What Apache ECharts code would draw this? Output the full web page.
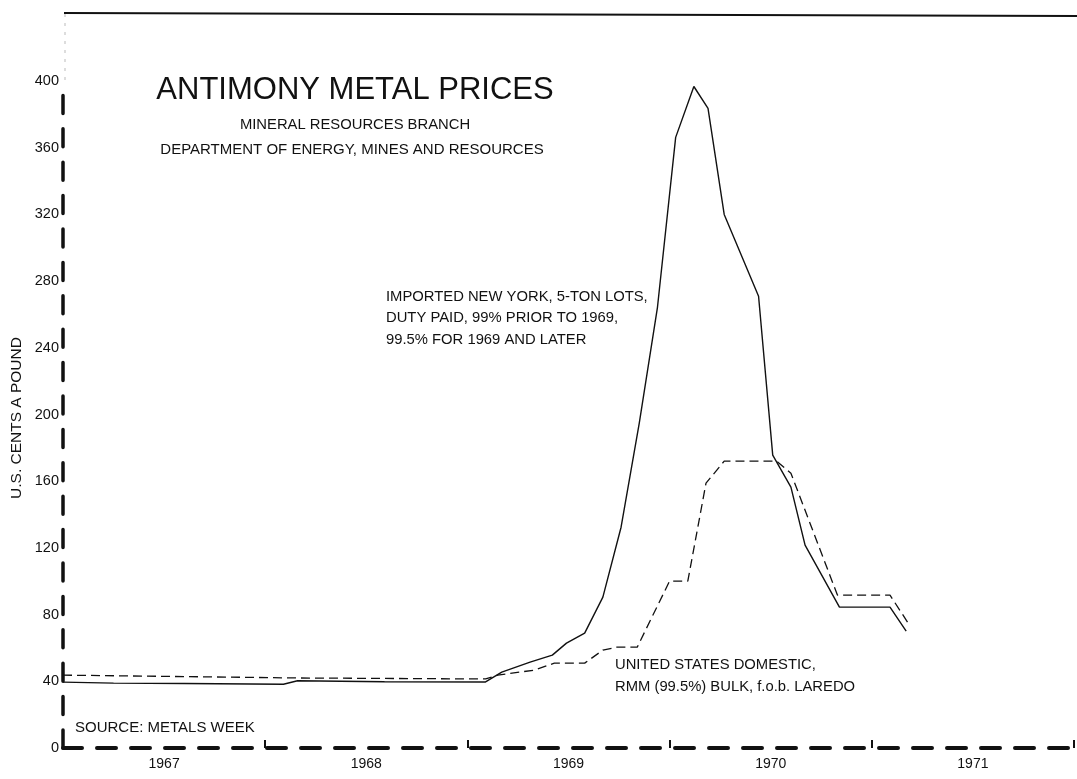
<!DOCTYPE html>
<html>
<head>
<meta charset="utf-8">
<title>Antimony metal prices</title>
<script src="https://cdn.jsdelivr.net/npm/echarts@6.0.0/dist/echarts.min.js"></script>
<style>
  html, body { margin: 0; padding: 0; background: #fff; }
  #myChart { width: 1077px; height: 779px; }
</style>
</head>
<body>
<div id="myChart"></div>
<script>
// imported New York, 5-ton lots (solid line)
const nyYears = [1967.00, 1967.25, 1967.60, 1968.09, 1968.16, 1968.59, 1969.09, 1969.17, 1969.31, 1969.42,
  1969.49, 1969.58, 1969.67, 1969.76, 1969.85, 1969.94, 1970.03, 1970.12, 1970.19, 1970.27,
  1970.44, 1970.51, 1970.60, 1970.67, 1970.84, 1971.09, 1971.17];
const nyPrices = [39.5, 38.9, 38.7, 38.2, 40.3, 39.7, 39.6, 45.5, 51.5, 55.7,
  62.9, 68.9, 90.5, 132.4, 194.8, 264.3, 366.2, 396.7, 383.6, 320.0,
  270.9, 175.6, 156.4, 121.7, 84.5, 84.5, 70.1];

// United States domestic, f.o.b. Laredo (dashed line)
const domYears = [1967.00, 1968.16, 1969.09, 1969.15, 1969.33, 1969.43, 1969.58, 1969.67, 1969.74, 1969.84,
  1970.00, 1970.09, 1970.18, 1970.27, 1970.53, 1970.60, 1970.83, 1971.09, 1971.18];
const domPrices = [43.7, 42.0, 41.4, 43.7, 46.7, 50.9, 50.9, 58.7, 60.5, 60.5,
  100.1, 100.1, 158.8, 172.0, 172.0, 164.8, 91.7, 91.7, 74.9];

// axis labels
const yearLabels = ['1967', '1968', '1969', '1970', '1971'];
const firstYear = 1967;
const lastYear = 1972;

const ink = '#111';
const font = '"Liberation Sans", Arial, sans-serif';

function pairs(xs, ys) {
  return xs.map(function (x, i) { return [x, ys[i]]; });
}

let myChart = echarts.init(document.getElementById('myChart'));

myChart.setOption({
  backgroundColor: '#fff',
  animation: false,
  grid: { left: 63, right: 0, top: 81, bottom: 31 },
  xAxis: [
    {
      // year labels sit in the middle of each year
      type: 'value',
      min: firstYear,
      max: lastYear,
      interval: 0.5,
      axisLine: { show: true, lineStyle: { color: ink, width: 4, type: [19, 15] } },
      axisTick: { show: false },
      splitLine: { show: false },
      axisLabel: {
        color: ink,
        fontFamily: font,
        fontSize: 14,
        margin: 9,
        formatter: function (v) {
          if (Math.abs(v - Math.floor(v) - 0.5) > 0.01) return '';
          return yearLabels[Math.floor(v) - firstYear] || '';
        }
      }
    },
    {
      // small ticks at each year boundary
      type: 'value',
      position: 'bottom',
      min: firstYear,
      max: lastYear,
      interval: 1,
      axisLine: { show: false },
      axisTick: { show: true, inside: true, length: 8, lineStyle: { color: ink, width: 2 } },
      axisLabel: { show: false },
      splitLine: { show: false }
    }
  ],
  yAxis: {
    type: 'value',
    min: 0,
    max: 400,
    interval: 40,
    axisLine: { show: true, lineStyle: { color: ink, width: 3.5, type: [18, 15.4] } },
    axisTick: { show: false },
    splitLine: { show: false },
    axisLabel: { color: ink, fontFamily: font, fontSize: 14.5, margin: 4 }
  },
  series: [
    {
      name: 'Imported New York',
      type: 'line',
      xAxisIndex: 0,
      symbol: 'none',
      lineStyle: { color: ink, width: 1.4, type: 'solid' },
      data: pairs(nyYears, nyPrices)
    },
    {
      name: 'United States domestic',
      type: 'line',
      xAxisIndex: 0,
      symbol: 'none',
      lineStyle: { color: ink, width: 1.3, type: [9, 5] },
      data: pairs(domYears, domPrices)
    }
  ],
  graphic: [
    // frame line along the top of the sheet
    { type: 'line', shape: { x1: 64, y1: 13, x2: 1077, y2: 16 }, style: { stroke: ink, lineWidth: 2 } },
    // faint continuation of the y axis above 400
    { type: 'line', shape: { x1: 65, y1: 14, x2: 65, y2: 80 }, style: { stroke: '#bbb', lineWidth: 1, lineDash: [3, 6] } },
    { type: 'text', x: 355, y: 90, style: { text: 'ANTIMONY METAL PRICES', font: '31px ' + font, fill: ink, align: 'center', verticalAlign: 'middle', textAlign: 'center', textVerticalAlign: 'middle' } },
    { type: 'text', x: 355, y: 125, style: { text: 'MINERAL RESOURCES BRANCH', font: '14.8px ' + font, fill: ink, align: 'center', verticalAlign: 'middle', textAlign: 'center', textVerticalAlign: 'middle' } },
    { type: 'text', x: 352, y: 150, style: { text: 'DEPARTMENT OF ENERGY, MINES AND RESOURCES', font: '15px ' + font, fill: ink, align: 'center', verticalAlign: 'middle', textAlign: 'center', textVerticalAlign: 'middle' } },
    { type: 'text', x: 386, y: 286, style: { text: 'IMPORTED NEW YORK, 5-TON LOTS,\nDUTY PAID, 99% PRIOR TO 1969,\n99.5% FOR 1969 AND LATER', font: '14.8px ' + font, lineHeight: 21.5, fill: ink, align: 'left', verticalAlign: 'top', textAlign: 'left', textVerticalAlign: 'top' } },
    { type: 'text', x: 615, y: 654, style: { text: 'UNITED STATES DOMESTIC,\nRMM (99.5%) BULK, f.o.b. LAREDO', font: '14.8px ' + font, lineHeight: 22, fill: ink, align: 'left', verticalAlign: 'top', textAlign: 'left', textVerticalAlign: 'top' } },
    { type: 'text', x: 75, y: 728, style: { text: 'SOURCE: METALS WEEK', font: '15px ' + font, fill: ink, align: 'left', verticalAlign: 'middle', textAlign: 'left', textVerticalAlign: 'middle' } },
    { type: 'text', x: 17, y: 418, rotation: Math.PI / 2, style: { text: 'U.S. CENTS A POUND', font: '15.5px ' + font, fill: ink, align: 'center', verticalAlign: 'middle', textAlign: 'center', textVerticalAlign: 'middle' } }
  ]
});
</script>
</body>
</html>
